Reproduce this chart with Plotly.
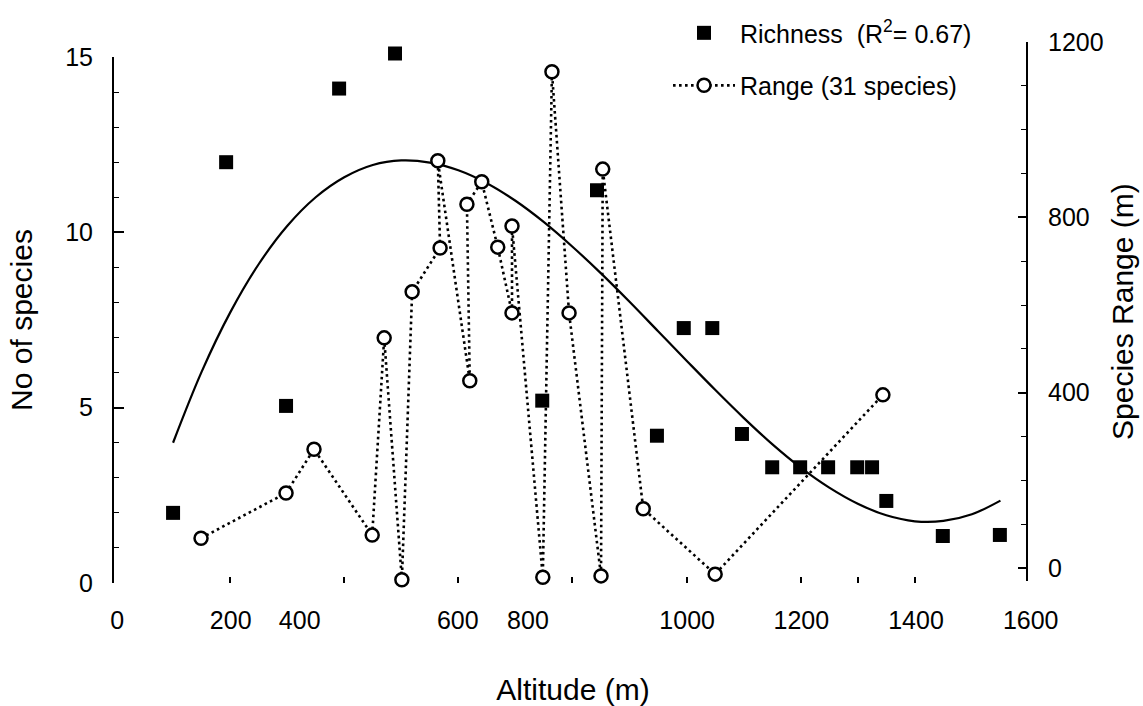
import plotly.graph_objects as go

# ---------------- data ----------------
# Species richness (left axis)
rich_alt = [100, 193, 298, 391, 489, 747, 843, 948, 995, 1045, 1097, 1150,
            1199, 1248, 1299, 1325, 1350, 1449, 1549]
rich_val = [2.0, 12.0, 5.05, 14.1, 15.1, 5.2, 11.2, 4.2, 7.27, 7.27, 4.25,
            3.3, 3.3, 3.3, 3.3, 3.3, 2.34, 1.34, 1.37]

# Fitted richness curve (left axis)
fit_alt = [100, 150, 200, 250, 300, 350, 400, 450, 500, 550, 600, 650, 700,
           750, 800, 850, 900, 950, 1000, 1050, 1100, 1150, 1200, 1250, 1300,
           1350, 1400, 1450, 1500, 1550]
fit_val = [4.00, 6.02, 7.71, 9.09, 10.18, 11.00, 11.57, 11.92, 12.05, 11.99,
           11.77, 11.40, 10.90, 10.29, 9.59, 8.83, 8.02, 7.18, 6.34, 5.51,
           4.71, 3.96, 3.29, 2.72, 2.26, 1.93, 1.76, 1.77, 1.96, 2.35]

# Species range (right axis), in drawing order of the dotted line
range_alt = [149, 298, 347, 449, 470, 501, 519, 568, 564, 620, 615, 641,
             669, 694, 694, 748, 764, 794, 850, 853, 924, 1050, 1344]
range_val = [68, 171, 271, 75, 525, -27, 630, 730, 929, 427, 830, 881,
             732, 582, 780, -21, 1132, 582, -18, 910, 135, -14, 395]

# Axis tick labels
x_label_pos = [2, 201, 322, 599, 722, 1001, 1201, 1402, 1603]
x_label_text = ["0", "200", "400", "600", "800", "1000", "1200", "1400", "1600"]
x_mark_pos = [200, 400, 600, 800, 1000, 1200, 1300, 1400]
y_left_ticks = [0, 5, 10, 15]
y_right_ticks = [0, 400, 800, 1200]

FONT = "Liberation Sans, Arial, sans-serif"
LEFT_DOMAIN_TOP = 0.97227            # left axis stops at 15
LEFT_TOP_FULL = 15 / LEFT_DOMAIN_TOP  # same scale, full plot height

fig = go.Figure()

fig.add_trace(go.Scatter(
    x=fit_alt, y=fit_val, mode="lines",
    line=dict(color="black", width=2.2, shape="spline", smoothing=1),
    showlegend=False, hoverinfo="skip"))

fig.add_trace(go.Scatter(
    x=rich_alt, y=rich_val, yaxis="y3", mode="markers",
    marker=dict(symbol="square", size=14, color="black"),
    name="Richness\u00a0\u00a0(R<sup>2</sup>= 0.67)", legendgroup="a"))

fig.add_trace(go.Scatter(
    x=range_alt, y=range_val, yaxis="y2", mode="lines+markers",
    line=dict(color="black", width=2.6, dash="2.6px,3.4px"),
    marker=dict(symbol="circle", size=13, color="white",
                line=dict(color="black", width=2.5)),
    cliponaxis=False,
    name="Range (31 species)", legendgroup="b"))

fig.update_layout(
    width=1143, height=706,
    margin=dict(l=114, r=111, t=42, b=123, autoexpand=False),
    paper_bgcolor="white", plot_bgcolor="rgba(0,0,0,0)",
    font=dict(family=FONT, size=25, color="black"),
    xaxis=dict(
        range=[-3.5, 1605.3], tickmode="array", tickvals=x_label_pos,
        ticktext=x_label_text, ticks="", showline=False, showgrid=False,
        zeroline=False, ticklabelstandoff=20,
        minor=dict(tickmode="array", tickvals=x_mark_pos, ticks="inside",
                   ticklen=6, tickwidth=1.5, tickcolor="black", showgrid=False),
        title=dict(text="Altitude (m)", standoff=52),
    ),
    yaxis=dict(
        domain=[0, LEFT_DOMAIN_TOP], range=[0, 15], tickmode="array",
        tickvals=y_left_ticks, ticks="inside", ticklen=10, tickwidth=1.5,
        tickcolor="black", showline=True, linewidth=2, linecolor="black",
        showgrid=False, zeroline=False, ticklabelstandoff=14,
        minor=dict(tickmode="linear", tick0=0, dtick=1, ticks="inside",
                   ticklen=5, tickwidth=1.2, tickcolor="black", showgrid=False),
        title=dict(text="No of species", standoff=24),
    ),
    yaxis3=dict(
        domain=[0, 1], range=[0, LEFT_TOP_FULL], anchor="x",
        visible=False, showgrid=False, zeroline=False,
    ),
    yaxis2=dict(
        domain=[0.00342, 1], range=[-30, 1200], anchor="free",
        position=0.9946, side="right", tickmode="array",
        tickvals=y_right_ticks, ticks="inside", ticklen=8, tickwidth=1.5,
        tickcolor="black", showline=True, linewidth=2, linecolor="black",
        showgrid=False, zeroline=False, ticklabelstandoff=15,
        minor=dict(tickmode="linear", tick0=0, dtick=100, ticks="inside",
                   ticklen=5, tickwidth=1.2, tickcolor="black", showgrid=False),
        title=dict(text="Species Range (m)", standoff=8),
    ),
    legend=dict(
        x=0.6035, y=1.059, xanchor="left", yanchor="top",
        font=dict(size=25), traceorder="grouped", tracegroupgap=17,
        bgcolor="rgba(0,0,0,0)", itemwidth=62),
    showlegend=True,
)

fig.write_html("out.html")
